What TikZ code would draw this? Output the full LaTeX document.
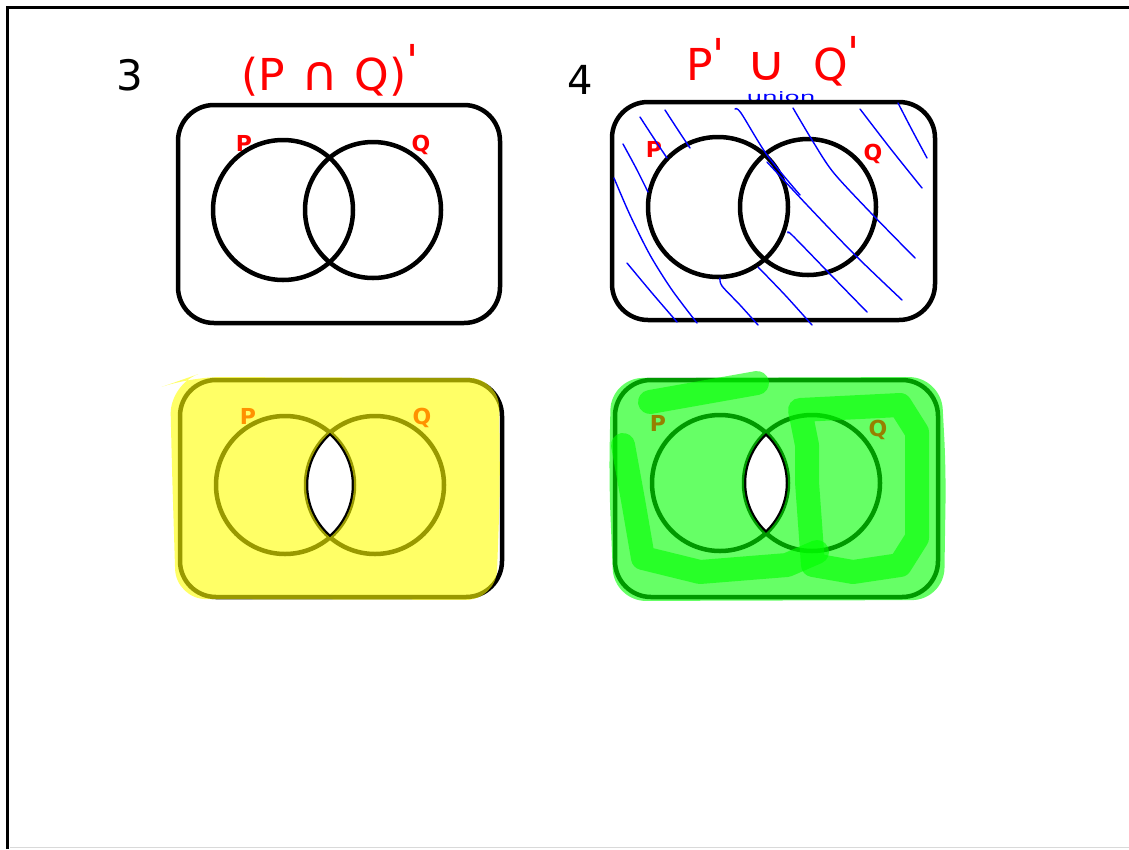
\documentclass[tikz,border=0pt]{standalone}
\usepackage{fontspec}
\setsansfont{DejaVu Sans}

\begin{document}
\begin{tikzpicture}[x=1pt,y=-1pt,font=\sffamily,
  venbox/.style={draw=black,line width=4.5pt,rounded corners=36pt},
  ring/.style={draw=black,line width=4.5pt},
  hatch/.style={draw=penblue,line width=1.4pt,line cap=round,line join=round},
  hilite/.style={opacity=.6},
  marker/.style={draw=hlgreen,opacity=.6,line width=24pt,line cap=round,line join=round},
  setlbl/.style={font=\sffamily\bfseries\fontsize{22}{22}\selectfont,inner sep=0pt},
  title/.style={font=\sffamily\fontsize{44}{44}\selectfont,text=penred,inner sep=0pt}]
\definecolor{penred}{RGB}{255,0,0}
\definecolor{penblue}{RGB}{0,0,255}
\definecolor{hlyellow}{RGB}{255,255,0}
\definecolor{hlgreen}{RGB}{0,255,0}
\definecolor{penorange}{RGB}{255,145,0}
\definecolor{penolive}{RGB}{150,128,0}
\useasboundingbox (0,0) rectangle (1129,849);
\fill[white] (0,0) rectangle (1129,849);
\draw[line width=3pt] (7,849) -- (7,7) -- (1129,7);
\draw[black!15,line width=1.5pt] (10,847.5) -- (1129,847.5);

\node[font=\sffamily\fontsize{42}{42}\selectfont,inner sep=0pt] (n3) at (130,75) {3};
\node[title] (t3) at (330,70) {(P\hspace{16pt}\scalebox{1.15}[1.1]{∩}\hspace{16pt}Q)\raisebox{14pt}{\textquotesingle}};
\node[font=\sffamily\fontsize{40}{40}\selectfont,inner sep=0pt] (n4) at (580,80) {4};
\node[title] (t4) at (773,61) {P\raisebox{10pt}{\textquotesingle}\hspace{22pt}\scalebox{1.25}[1.1]{∪}\hspace{26pt}Q\raisebox{12pt}{\textquotesingle}};
\node[text=penblue,font=\sffamily\fontsize{13}{13}\selectfont,inner sep=0pt] (un) at (781,97) {\scalebox{1.9}[1]{union}};

\draw[venbox] (178,105) rectangle (500,323);
\draw[ring] (283,210) circle[radius=70];
\draw[ring] (373,210) circle[radius=68];
\node[setlbl,text=penred] (p1) at (244,143) {P};
\node[setlbl,text=penred] (q1) at (421,145) {Q};

\draw[venbox] (612,102) rectangle (935,320);
\draw[ring] (718,207) circle[radius=70];
\draw[ring] (808,207) circle[radius=68];
\node[setlbl,text=penred] (p2) at (654,149) {P};
\node[setlbl,text=penred] (q2) at (873,154) {Q};
\draw[hatch] plot[smooth] coordinates {(640,117) (653,137) (667,158)};
\draw[hatch] plot[smooth] coordinates {(665,110) (678,130) (690,148)};
\draw[hatch] plot[smooth] coordinates {(623,144) (636,168) (648,192)};
\draw[hatch] plot[smooth] coordinates {(614,178) (630,215) (650,255) (672,290) (697,323)};
\draw[hatch] plot[smooth] coordinates {(627,263) (652,293) (677,322)};
\draw[hatch] plot[smooth] coordinates {(735,109) (741,113) (767,155) (800,195)};
\draw[hatch] plot[smooth] coordinates {(793,108) (812,140) (833,172) (870,212) (915,258)};
\draw[hatch] plot[smooth] coordinates {(860,109) (890,148) (922,188)};
\draw[hatch] plot[smooth] coordinates {(898,103) (912,130) (927,158)};
\draw[hatch] plot[smooth] coordinates {(767,162) (807,205) (855,255) (902,300)};
\draw[hatch] plot[smooth] coordinates {(788,233) (792,235) (828,272) (867,312)};
\draw[hatch] plot[smooth] coordinates {(720,278) (722,286) (740,305) (758,325)};
\draw[hatch] plot[smooth] coordinates {(758,267) (785,295) (812,325)};

\draw[venbox] (180,380) rectangle (502,597);
\draw[ring] (285,485) circle[radius=69];
\draw[ring] (375,485) circle[radius=69];
\fill[hlyellow,hilite,even odd rule]
  [rounded corners=30pt] (170,384) -- (172,470) -- (176,599) -- (496,600) -- (500,490) -- (499,378) -- (190,377) -- cycle
  [sharp corners] (330,432.7) arc[start angle=229.3,end angle=130.7,radius=69]
  arc[start angle=49.3,end angle=-49.3,radius=69] -- cycle;
\node[setlbl,text=penorange] (p3) at (248,416) {P};
\node[setlbl,text=penorange] (q3) at (422,418) {Q};

\draw[venbox] (615,380) rectangle (938,597);
\draw[ring] (720,483) circle[radius=68];
\draw[ring] (812,483) circle[radius=68];
\fill[hlgreen,hilite,even odd rule]
  [rounded corners=32pt] (611,378) -- (609,480) -- (614,601) -- (944,600) -- (946,470) -- (941,377) -- cycle
  [sharp corners] (766,432.9) arc[start angle=227.4,end angle=132.6,radius=68]
  arc[start angle=47.4,end angle=-47.4,radius=68] -- cycle;
\draw[marker] (650,402) -- (757,383);
\draw[marker] (623,445) -- (633,500) -- (643,558) -- (700,572) -- (787,565) -- (817,552);
\draw[marker] (807,445) -- (800,410) -- (900,405) -- (917,432) -- (917,538) -- (900,565)
  -- (853,572) -- (813,565) -- (807,482) -- cycle;
\node[setlbl,text=penolive] (p4) at (658,423) {P};
\node[setlbl,text=penolive] (q4) at (878,430) {Q};
\end{tikzpicture}
\end{document}
